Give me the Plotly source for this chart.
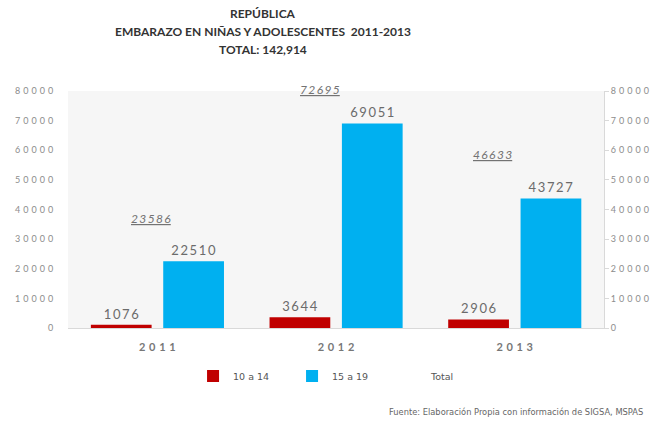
import plotly.graph_objects as go

# ---- data ----
years = ["2011", "2012", "2013"]
g10_14 = [1076, 3644, 2906]
g15_19 = [22510, 69051, 43727]
totals = [23586, 72695, 46633]
total_label_y = [36800, 79000, 58400]     # where the (moved) total labels sit
total_label_dy = [0, 4, 0]
total_label_dx = [-6, -16, -22]
y_ticks = [0, 10000, 20000, 30000, 40000, 50000, 60000, 70000, 80000]
title_lines = ["REPÚBLICA", "EMBARAZO EN NIÑAS Y ADOLESCENTES  2011-2013", "TOTAL: 142,914"]

RED = "#c00000"
BLUE = "#00b0f0"
FONT = "Lato, 'Open Sans', sans-serif"
WIDE = "'DejaVu Sans', Verdana, sans-serif"

def spaced(s, sep="\u2009"):
    return sep.join(str(s))

fig = go.Figure()
fig.add_trace(go.Bar(
    name="10 a 14", x=years, y=g10_14, marker=dict(color=RED, line=dict(width=0)),
    width=0.34, offset=-0.372,
    text=[spaced(v) for v in g10_14], textposition="outside", cliponaxis=False,
    textfont=dict(size=13, color="#6b6b6b", family=FONT),
))
fig.add_trace(go.Bar(
    name="15 a 19", x=years, y=g15_19, marker=dict(color=BLUE, line=dict(width=0)),
    width=0.34, offset=0.033,
    text=[spaced(v) for v in g15_19], textposition="outside", cliponaxis=False,
    textfont=dict(size=13, color="#6b6b6b", family=FONT),
))
fig.add_trace(go.Bar(
    name="Total", x=years, y=totals, yaxis="y2",
    marker=dict(color="rgba(0,0,0,0)", line=dict(width=0)),
    width=0.01, offset=0, hoverinfo="skip",
))

for i, (t, ly, dx, dy) in enumerate(zip(totals, total_label_y, total_label_dx, total_label_dy)):
    fig.add_annotation(
        x=i, y=ly, xref="x", yref="y", xshift=dx, yshift=dy, showarrow=False,
        text="<u>" + spaced(t) + "</u>",
        font=dict(size=12, color="#737373", family=FONT, style="italic"),
    )

# title lines (paper coords: 1 = top of plot at 91px, 0 = bottom at 328px)
title_y = [1.329, 1.250, 1.177]
for line, ty in zip(title_lines, title_y):
    fig.add_annotation(
        xref="paper", yref="paper", x=0.363, y=ty, xanchor="center", yanchor="middle",
        showarrow=False, text="<b>" + line + "</b>",
        font=dict(size=12, color="#333333", family=FONT),
    )

fig.add_annotation(
    xref="paper", yref="paper", x=1.077, y=-0.3544, xanchor="right", yanchor="middle",
    showarrow=False, text="Fuente: Elaboración Propia con información de SIGSA, MSPAS",
    font=dict(size=8.3, color="#666666", family=WIDE),
)

tick_text = [spaced(v, "\u2004") for v in y_ticks]
tickfont = dict(size=9, color="#8c8c8c", family=FONT)

fig.update_layout(
    width=661, height=427,
    margin=dict(l=68, r=53, t=91, b=99, pad=0),
    paper_bgcolor="white", plot_bgcolor="#f6f6f6",
    barmode="group",
    showlegend=True,
    legend=dict(
        orientation="h", x=0.2333, xanchor="left", y=-0.2025, yanchor="middle",
        font=dict(size=9.5, color="#555555", family=WIDE),
        entrywidth=54, bgcolor="rgba(0,0,0,0)",
    ),
    xaxis=dict(
        type="category", categoryorder="array", categoryarray=years,
        range=[-0.5, 2.5], autorange=False,
        tickvals=years, ticktext=[spaced(y, "\u2004") for y in years],
        tickfont=dict(size=11, color="#777777", family=FONT, weight="bold"),
        showline=True, linecolor="#d9d9d9", linewidth=1, ticks="",
        ticklabelstandoff=9,
        showgrid=False, zeroline=False, tickangle=0,
    ),
    yaxis=dict(
        range=[0, 80000], autorange=False, tickvals=y_ticks, ticktext=tick_text, tickfont=tickfont,
        showgrid=False, zeroline=False, showline=False, ticks="outside",
        ticklen=12, tickcolor="rgba(0,0,0,0)",
    ),
    yaxis2=dict(
        range=[0, 80000], autorange=False, overlaying="y", side="right", tickvals=y_ticks,
        ticktext=tick_text, tickfont=tickfont,
        showgrid=False, zeroline=False, showline=True, linecolor="#d9d9d9",
        ticks="outside", ticklen=4, tickcolor="#d9d9d9",
    ),
)

fig.write_html("out.html")
